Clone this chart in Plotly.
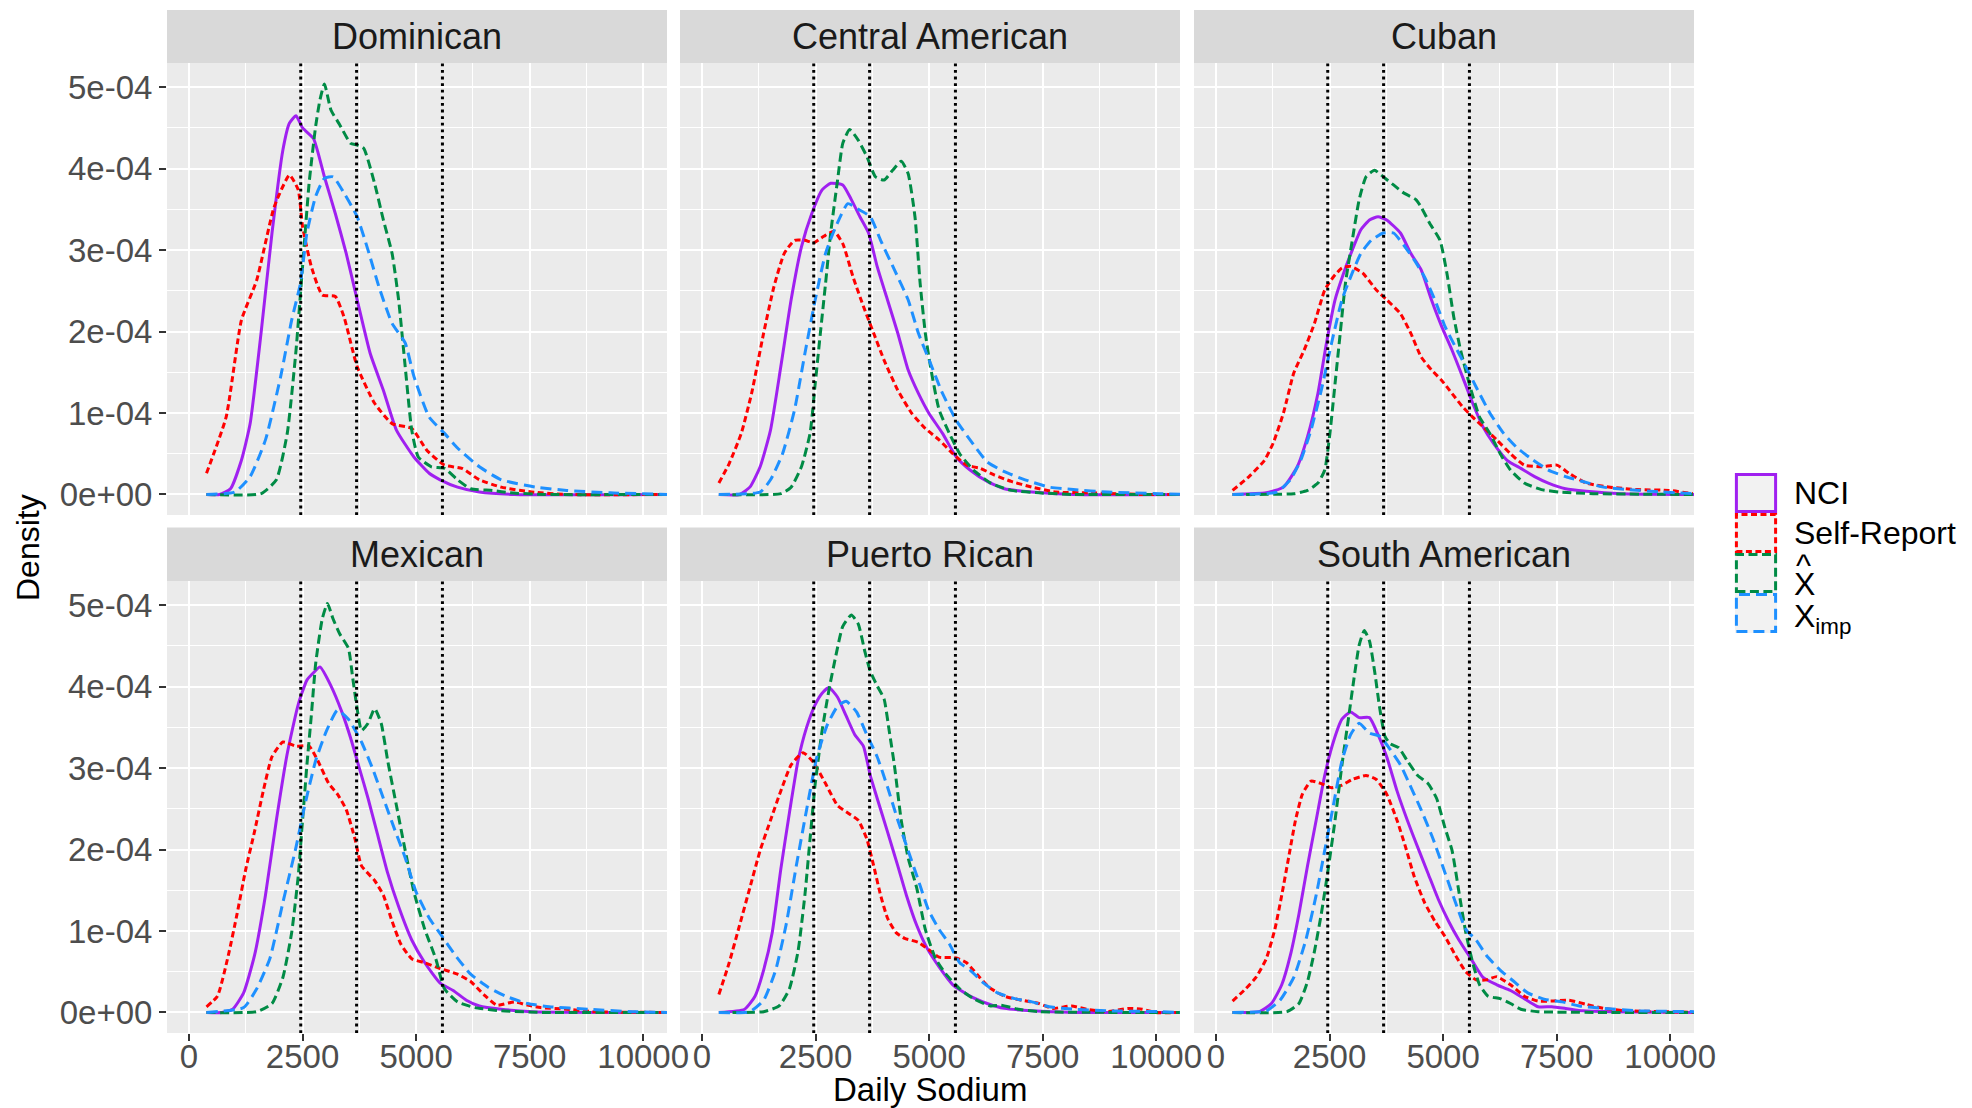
import plotly.graph_objects as go

# ---------------- data (density values in units of 1e-4) ----------------
DENSITY_UNIT = 1e-4
FACETS = ["Dominican", "Central American", "Cuban", "Mexican", "Puerto Rican", "South American"]
SERIES = ["NCI", "Self-Report", "X̂", "Ximp"]
CUTOFFS = [2460, 3690, 5580]
X_TICKS = [0, 2500, 5000, 7500, 10000]
X_TICK_TEXT = ["0", "2500", "5000", "7500", "10000"]
Y_TICKS = [0, 1e-4, 2e-4, 3e-4, 4e-4, 5e-4]
Y_TICK_TEXT = ["0e+00", "1e-04", "2e-04", "3e-04", "4e-04", "5e-04"]

DOM_NCI = [(385,0),(673,0),(913,0.07),(1154,0.42),(1346,0.87),(1586,1.98),(1827,3.21),(2067,4.23),(2212,4.56),(2356,4.65),(2500,4.50),(2740,4.37),(2981,3.90),(3221,3.45),(3461,2.96),(3702,2.39),(3990,1.73),(4279,1.28),(4567,0.79),(4952,0.46),(5288,0.26),(5529,0.18),(5913,0.09),(6394,0.03),(7163,0),(10600,0)]
DOM_SR = [(385,0.26),(817,0.95),(1154,2.14),(1490,2.63),(1875,3.53),(2212,3.92),(2404,3.74),(2500,3.29),(2692,2.80),(2933,2.45),(3221,2.43),(3413,2.18),(3702,1.57),(4086,1.12),(4471,0.87),(4904,0.81),(5240,0.54),(5625,0.36),(6010,0.32),(6394,0.18),(6875,0.09),(7548,0.03),(8317,0),(10600,0)]
DOM_XHAT = [(385,0),(1586,0.01),(1923,0.18),(2163,0.75),(2356,1.77),(2500,2.80),(2644,3.82),(2788,4.52),(2885,4.85),(2981,5.04),(3125,4.72),(3317,4.54),(3558,4.31),(3702,4.29),(3846,4.25),(4086,3.82),(4279,3.37),(4471,2.96),(4615,2.39),(4760,1.57),(4904,0.79),(5048,0.46),(5337,0.34),(5625,0.32),(5913,0.18),(6202,0.07),(6683,0.05),(7067,0.02),(7836,0),(10600,0)]
DOM_XIMP = [(385,0),(1010,0.03),(1346,0.22),(1683,0.67),(2019,1.45),(2260,2.14),(2452,2.59),(2596,3.21),(2788,3.66),(2981,3.88),(3173,3.90),(3413,3.70),(3702,3.41),(3942,3.00),(4182,2.55),(4471,2.10),(4760,1.86),(4952,1.45),(5288,0.95),(5625,0.75),(5913,0.57),(6394,0.34),(6875,0.18),(7644,0.09),(8317,0.05),(9279,0.02),(10600,0)]

CAM_NCI = [(371,0),(826,0),(1053,0.09),(1280,0.34),(1508,0.79),(1735,1.57),(1962,2.39),(2189,3.04),(2417,3.45),(2644,3.74),(2833,3.82),(3099,3.80),(3288,3.62),(3477,3.41),(3667,3.21),(3856,2.80),(4083,2.39),(4311,1.98),(4538,1.53),(4765,1.24),(4992,1.00),(5296,0.75),(5599,0.46),(5902,0.30),(6280,0.16),(6659,0.07),(7265,0.03),(8174,0),(10600,0)]
CAM_SR = [(371,0.14),(598,0.38),(864,0.75),(1091,1.24),(1356,1.98),(1583,2.55),(1811,2.96),(2038,3.12),(2265,3.12),(2455,3.09),(2682,3.17),(2909,3.23),(3099,3.08),(3326,2.67),(3553,2.31),(3780,1.98),(4008,1.65),(4311,1.28),(4614,1.00),(4917,0.81),(5220,0.67),(5523,0.50),(5826,0.36),(6129,0.32),(6432,0.24),(6811,0.16),(7265,0.09),(7796,0.03),(8553,0.02),(9690,0),(10600,0)]
CAM_XHAT = [(371,0),(1735,0.01),(1962,0.09),(2189,0.34),(2379,0.75),(2493,1.36),(2606,1.98),(2720,2.59),(2833,3.21),(2985,3.86),(3099,4.31),(3250,4.48),(3439,4.35),(3629,4.15),(3818,3.90),(4008,3.86),(4197,3.98),(4386,4.09),(4538,3.94),(4689,3.41),(4803,2.59),(4917,1.98),(5030,1.57),(5220,1.04),(5447,0.75),(5674,0.50),(5977,0.30),(6356,0.14),(6811,0.05),(7417,0.02),(8174,0),(10600,0)]
CAM_XIMP = [(371,0),(1280,0.03),(1508,0.18),(1773,0.50),(2038,1.04),(2265,1.73),(2493,2.39),(2720,2.96),(2947,3.29),(3212,3.57),(3477,3.49),(3705,3.41),(3932,3.12),(4235,2.76),(4538,2.39),(4765,1.98),(5030,1.61),(5296,1.24),(5599,0.91),(5902,0.67),(6280,0.40),(6659,0.28),(7114,0.18),(7644,0.09),(8174,0.06),(8932,0.03),(10068,0.01),(10600,0)]

CUB_NCI = [(364,0),(1106,0.02),(1485,0.09),(1788,0.34),(2015,0.71),(2243,1.24),(2432,1.86),(2621,2.39),(2811,2.72),(3000,3.00),(3189,3.25),(3379,3.37),(3568,3.41),(3758,3.37),(4061,3.21),(4288,2.96),(4515,2.76),(4743,2.39),(4970,2.06),(5197,1.77),(5424,1.45),(5652,1.12),(5879,0.83),(6106,0.63),(6409,0.42),(6712,0.32),(7015,0.22),(7318,0.14),(7697,0.07),(8152,0.04),(8909,0.01),(10600,0)]
CUB_SR = [(364,0.05),(727,0.22),(1068,0.42),(1258,0.63),(1485,1.00),(1712,1.49),(1939,1.77),(2167,2.10),(2394,2.51),(2583,2.67),(2773,2.78),(2962,2.80),(3227,2.72),(3530,2.51),(3758,2.39),(4061,2.22),(4288,1.98),(4515,1.69),(4743,1.53),(4970,1.40),(5197,1.24),(5424,1.08),(5652,0.95),(5879,0.83),(6182,0.67),(6485,0.50),(6788,0.36),(7167,0.34),(7508,0.36),(7773,0.26),(8152,0.14),(8682,0.09),(9288,0.06),(9970,0.05),(10500,0.01)]
CUB_XHAT = [(364,0),(1712,0.01),(2015,0.05),(2243,0.14),(2394,0.30),(2508,0.75),(2621,1.36),(2735,1.98),(2849,2.59),(3000,3.12),(3152,3.62),(3303,3.90),(3492,3.98),(3682,3.90),(3909,3.80),(4136,3.70),(4402,3.62),(4515,3.53),(4705,3.33),(4932,3.12),(5083,2.72),(5235,2.18),(5386,1.77),(5576,1.36),(5803,0.95),(6030,0.75),(6258,0.50),(6485,0.30),(6788,0.14),(7167,0.06),(7545,0.03),(8303,0.01),(10600,0)]
CUB_XIMP = [(364,0),(1333,0.03),(1636,0.18),(1864,0.42),(2091,0.79),(2318,1.28),(2545,1.86),(2773,2.39),(3000,2.72),(3189,2.96),(3417,3.12),(3682,3.21),(3909,3.21),(4136,3.06),(4364,2.88),(4591,2.67),(4818,2.39),(5045,2.06),(5273,1.81),(5500,1.57),(5727,1.32),(6030,1.00),(6333,0.75),(6636,0.57),(6939,0.44),(7318,0.30),(7697,0.22),(8076,0.16),(8530,0.09),(9061,0.06),(9818,0.03),(10600,0.01)]

MEX_NCI = [(385,0),(721,0),(962,0.04),(1202,0.24),(1442,0.70),(1683,1.44),(1923,2.36),(2163,3.18),(2404,3.78),(2596,4.08),(2740,4.17),(2885,4.24),(3125,4.01),(3365,3.69),(3558,3.37),(3750,3.00),(3942,2.63),(4135,2.22),(4375,1.71),(4615,1.30),(4904,0.89),(5192,0.61),(5529,0.36),(5817,0.27),(6106,0.15),(6394,0.08),(6875,0.04),(7548,0.01),(10600,0)]
MEX_SR = [(385,0.07),(625,0.20),(865,0.70),(1058,1.21),(1250,1.76),(1442,2.22),(1635,2.72),(1827,3.14),(2067,3.32),(2356,3.27),(2644,3.27),(2837,3.09),(3077,2.81),(3269,2.68),(3462,2.49),(3654,2.13),(3798,1.80),(4087,1.62),(4279,1.44),(4471,1.12),(4663,0.84),(4904,0.66),(5192,0.61),(5529,0.54),(5913,0.47),(6202,0.38),(6490,0.22),(6779,0.09),(7163,0.13),(7452,0.09),(7740,0.06),(8317,0.04),(8894,0.01),(10600,0)]
MEX_XHAT = [(385,0),(1490,0.01),(1827,0.11),(2067,0.43),(2260,0.98),(2404,1.67),(2500,2.36),(2596,3.04),(2692,3.64),(2788,4.28),(2933,4.83),(3048,5.02),(3173,4.83),(3317,4.65),(3510,4.47),(3606,4.10),(3702,3.73),(3798,3.46),(3942,3.55),(4087,3.73),(4231,3.55),(4375,3.09),(4567,2.54),(4760,1.99),(4952,1.48),(5192,1.02),(5433,0.66),(5625,0.29),(5913,0.13),(6298,0.06),(6875,0.02),(7836,0),(10600,0)]
MEX_XIMP = [(385,0),(1202,0.06),(1490,0.29),(1779,0.66),(2067,1.35),(2356,2.03),(2548,2.54),(2788,3.09),(3029,3.46),(3269,3.71),(3510,3.60),(3798,3.32),(4038,3.00),(4279,2.63),(4519,2.26),(4760,1.90),(5000,1.48),(5288,1.16),(5577,0.93),(5865,0.70),(6202,0.47),(6587,0.31),(6971,0.20),(7452,0.11),(7933,0.07),(8798,0.04),(9760,0.01),(10600,0)]

PR_NCI = [(371,0),(939,0.04),(1167,0.20),(1356,0.52),(1545,0.98),(1735,1.76),(1924,2.45),(2114,3.09),(2303,3.50),(2493,3.78),(2644,3.92),(2795,3.99),(2985,3.87),(3174,3.64),(3364,3.41),(3553,3.27),(3705,2.91),(3856,2.63),(4083,2.22),(4311,1.80),(4500,1.44),(4727,1.07),(4955,0.79),(5220,0.56),(5523,0.34),(5902,0.20),(6280,0.11),(6659,0.05),(7265,0.02),(8174,0),(10600,0)]
PR_SR = [(371,0.22),(598,0.61),(826,1.07),(1053,1.53),(1280,1.99),(1508,2.36),(1735,2.72),(1962,3.04),(2227,3.19),(2455,3.07),(2720,2.81),(2985,2.54),(3212,2.45),(3439,2.36),(3629,2.13),(3780,1.80),(3932,1.44),(4083,1.16),(4273,0.98),(4462,0.91),(4765,0.86),(4992,0.77),(5220,0.68),(5599,0.67),(5826,0.61),(6053,0.47),(6318,0.31),(6659,0.20),(7038,0.15),(7417,0.11),(7720,0.05),(8136,0.08),(8477,0.04),(8932,0.01),(9387,0.05),(9690,0.04),(9993,0),(10600,0)]
PR_XHAT = [(371,0),(1356,0.01),(1697,0.08),(1924,0.29),(2114,0.75),(2265,1.44),(2379,2.13),(2493,2.81),(2644,3.46),(2795,3.96),(2947,4.38),(3099,4.74),(3288,4.88),(3439,4.77),(3591,4.42),(3705,4.19),(3856,4.01),(4008,3.85),(4121,3.46),(4235,3.04),(4386,2.36),(4538,1.90),(4727,1.53),(4917,1.02),(5144,0.66),(5371,0.47),(5674,0.29),(5977,0.17),(6356,0.08),(6583,0.09),(6962,0.04),(7417,0.01),(10600,0)]
PR_XIMP = [(371,0),(1053,0.01),(1356,0.15),(1621,0.52),(1849,1.07),(2076,1.80),(2303,2.49),(2530,3.14),(2758,3.53),(2985,3.76),(3174,3.82),(3402,3.69),(3629,3.41),(3856,3.14),(4083,2.77),(4311,2.36),(4538,1.99),(4765,1.62),(4992,1.25),(5220,1.02),(5447,0.84),(5674,0.61),(5902,0.52),(6205,0.36),(6508,0.24),(6886,0.17),(7265,0.13),(7644,0.07),(8174,0.04),(8932,0.02),(10068,0.01),(10600,0)]

SAM_NCI = [(364,0),(955,0.01),(1220,0.11),(1447,0.34),(1636,0.70),(1826,1.21),(2015,1.80),(2205,2.36),(2394,2.91),(2583,3.32),(2773,3.60),(2962,3.69),(3152,3.62),(3379,3.62),(3568,3.41),(3758,3.14),(3985,2.72),(4212,2.36),(4440,2.03),(4667,1.71),(4894,1.39),(5121,1.12),(5349,0.89),(5614,0.66),(5879,0.43),(6182,0.34),(6485,0.27),(6788,0.17),(7091,0.07),(7394,0.07),(7697,0.05),(8076,0.02),(8682,0.01),(10600,0)]
SAM_SR = [(364,0.14),(652,0.29),(879,0.43),(1106,0.66),(1295,1.02),(1447,1.44),(1598,1.90),(1750,2.36),(1902,2.68),(2091,2.84),(2318,2.81),(2545,2.76),(2773,2.79),(3000,2.86),(3303,2.91),(3530,2.86),(3758,2.68),(3985,2.36),(4174,2.03),(4364,1.67),(4591,1.35),(4818,1.12),(5045,0.93),(5273,0.70),(5500,0.50),(5727,0.40),(5955,0.40),(6182,0.44),(6485,0.34),(6788,0.20),(7091,0.14),(7394,0.14),(7773,0.15),(8152,0.10),(8530,0.05),(9061,0.02),(9818,0.01),(10600,0)]
SAM_XHAT = [(364,0),(1561,0.01),(1826,0.11),(2015,0.38),(2167,0.75),(2318,1.21),(2470,1.76),(2621,2.36),(2773,3.04),(2924,3.64),(3038,4.10),(3152,4.51),(3265,4.69),(3379,4.56),(3492,4.19),(3606,3.73),(3720,3.39),(3834,3.30),(4023,3.25),(4212,3.09),(4440,2.91),(4667,2.81),(4856,2.63),(5045,2.26),(5197,1.99),(5349,1.48),(5500,0.98),(5652,0.61),(5803,0.34),(5992,0.20),(6258,0.17),(6485,0.11),(6712,0.04),(7091,0.01),(10600,0)]
SAM_XIMP = [(364,0),(1106,0.02),(1409,0.15),(1712,0.43),(1977,0.89),(2205,1.44),(2394,1.99),(2583,2.54),(2773,3.09),(2962,3.41),(3152,3.55),(3379,3.43),(3606,3.39),(3834,3.23),(4061,3.04),(4288,2.77),(4515,2.49),(4780,2.13),(5045,1.71),(5273,1.35),(5500,1.02),(5727,0.89),(5955,0.70),(6258,0.52),(6561,0.38),(6864,0.24),(7243,0.16),(7621,0.13),(8000,0.08),(8530,0.05),(9288,0.02),(10600,0.01)]

PANEL_DATA = [
    [DOM_NCI, DOM_SR, DOM_XHAT, DOM_XIMP],
    [CAM_NCI, CAM_SR, CAM_XHAT, CAM_XIMP],
    [CUB_NCI, CUB_SR, CUB_XHAT, CUB_XIMP],
    [MEX_NCI, MEX_SR, MEX_XHAT, MEX_XIMP],
    [PR_NCI, PR_SR, PR_XHAT, PR_XIMP],
    [SAM_NCI, SAM_SR, SAM_XHAT, SAM_XIMP],
]

# ---------------- styling ----------------
WIN_W, WIN_H = 1972, 1108
BODY_MARGIN = 8            # default page margin around the plot div
W, H = WIN_W - 2 * BODY_MARGIN, WIN_H - BODY_MARGIN
FONT = "Liberation Sans, Arial, sans-serif"
COLORS = ["#A020F0", "#FF0000", "#008B45", "#1E90FF"]
DASHES = ["solid", "6px,3.5px", "9px,4.5px", "11px,6px"]
LINE_W = 3.0
PANEL_X = [(167, 667), (680, 1180), (1194, 1694)]
ROW_Y = [(63, 515), (581, 1033)]
STRIP_Y = [(10, 63), (527.5, 581)]
X_RANGE = [-485, 10525]
Y_RANGE = [-2.52e-5, 5.297e-4]


def px(x):
    return (x - BODY_MARGIN) / W


def py(y):
    return 1 - (y - BODY_MARGIN) / H


fig = go.Figure()
shapes = []
annotations = []
layout_axes = {}

for i, facet in enumerate(FACETS):
    row, col = divmod(i, 3)
    n = "" if i == 0 else str(i + 1)
    xa, ya = "x" + n, "y" + n
    for s, pts in enumerate(PANEL_DATA[i]):
        fig.add_trace(go.Scatter(
            x=[p[0] for p in pts], y=[p[1] * DENSITY_UNIT for p in pts],
            mode="lines", xaxis=xa, yaxis=ya, showlegend=False, hoverinfo="skip",
            name=SERIES[s],
            line=dict(color=COLORS[s], width=LINE_W, dash=DASHES[s], shape="spline", smoothing=0.5),
        ))
    x0, x1 = PANEL_X[col]
    y0, y1 = ROW_Y[row]
    layout_axes["xaxis" + n] = dict(
        domain=[px(x0), px(x1)], range=X_RANGE, anchor=ya, automargin=False,
        tickvals=X_TICKS, ticktext=X_TICK_TEXT, showticklabels=(row == 1),
        ticks="outside" if row == 1 else "", ticklen=7, tickwidth=2.2, tickcolor="#333333",
        ticklabelstandoff=-13,
        tickfont=dict(family=FONT, size=33, color="#4D4D4D"),
        showgrid=True, gridcolor="white", gridwidth=2.2,
        minor=dict(tickvals=[1250, 3750, 6250, 8750], showgrid=True, gridcolor="white", gridwidth=1.1, ticks=""),
        zeroline=False, showline=False, fixedrange=True,
    )
    layout_axes["yaxis" + n] = dict(
        domain=[py(y1), py(y0)], range=Y_RANGE, anchor=xa, automargin=False,
        tickvals=Y_TICKS, ticktext=Y_TICK_TEXT, showticklabels=(col == 0),
        ticks="outside" if col == 0 else "", ticklen=7, tickwidth=2.2, tickcolor="#333333",
        tickfont=dict(family=FONT, size=33, color="#4D4D4D"),
        showgrid=True, gridcolor="white", gridwidth=2.2,
        minor=dict(tickvals=[0.5e-4, 1.5e-4, 2.5e-4, 3.5e-4, 4.5e-4], showgrid=True,
                   gridcolor="white", gridwidth=1.1, ticks=""),
        zeroline=False, showline=False, fixedrange=True,
    )
    for c in CUTOFFS:
        shapes.append(dict(type="line", xref=xa, yref=ya + " domain", x0=c, x1=c, y0=0, y1=1,
                           line=dict(color="black", width=3, dash="2.8px,3.8px"), layer="above"))
    sy0, sy1 = STRIP_Y[row]
    shapes.append(dict(type="rect", xref="paper", yref="paper", x0=px(x0), x1=px(x1),
                       y0=py(sy1), y1=py(sy0), fillcolor="#D9D9D9", line=dict(width=0), layer="below"))
    annotations.append(dict(text=facet, xref="paper", yref="paper", x=px((x0 + x1) / 2),
                            y=py((sy0 + sy1) / 2), showarrow=False, xanchor="center", yanchor="middle",
                            font=dict(family=FONT, size=36, color="#1A1A1A")))

# axis titles
annotations.append(dict(text="Daily Sodium", xref="paper", yref="paper", x=px(930), y=py(1089),
                        showarrow=False, xanchor="center", yanchor="middle",
                        font=dict(family=FONT, size=33, color="black")))
annotations.append(dict(text="Density", xref="paper", yref="paper", x=px(28), y=py(548),
                        showarrow=False, xanchor="center", yanchor="middle", textangle=-90,
                        font=dict(family=FONT, size=32, color="black")))

# legend (drawn manually to mimic ggplot keys)
KEY_X = (1735, 1777)
KEY_Y = [(473, 513), (513, 553), (553, 593), (593, 633)]
for s in range(4):
    ky0, ky1 = KEY_Y[s]
    shapes.append(dict(type="rect", xref="paper", yref="paper", x0=px(KEY_X[0]), x1=px(KEY_X[1]),
                       y0=py(ky1), y1=py(ky0), fillcolor="#F2F2F2", line=dict(width=0), layer="above"))
for s in range(4):
    ky0, ky1 = KEY_Y[s]
    shapes.append(dict(type="rect", xref="paper", yref="paper", x0=px(KEY_X[0] + 1.4), x1=px(KEY_X[1] - 1.4),
                       y0=py(ky1 - 1.4), y1=py(ky0 + 1.4), fillcolor="rgba(0,0,0,0)",
                       line=dict(color=COLORS[s], width=LINE_W, dash=DASHES[s]), layer="above"))

LEG_FONT = dict(family=FONT, size=32, color="black")
annotations.append(dict(text="NCI", xref="paper", yref="paper", x=px(1792), y=py(493),
                        showarrow=False, xanchor="left", yanchor="middle", font=LEG_FONT))
annotations.append(dict(text="Self-Report", xref="paper", yref="paper", x=px(1792), y=py(533),
                        showarrow=False, xanchor="left", yanchor="middle", font=LEG_FONT))
annotations.append(dict(text="^", xref="paper", yref="paper", x=px(1794), y=py(565),
                        showarrow=False, xanchor="left", yanchor="middle", font=LEG_FONT))
annotations.append(dict(text="X", xref="paper", yref="paper", x=px(1792), y=py(584),
                        showarrow=False, xanchor="left", yanchor="middle", font=LEG_FONT))
annotations.append(dict(text="X<sub>imp</sub>", xref="paper", yref="paper", x=px(1792), y=py(618),
                        showarrow=False, xanchor="left", yanchor="middle", font=LEG_FONT))

fig.update_layout(
    width=W, height=H, autosize=False,
    margin=dict(l=0, r=0, t=0, b=0, pad=0),
    paper_bgcolor="white", plot_bgcolor="#EBEBEB",
    showlegend=False, shapes=shapes, annotations=annotations,
    font=dict(family=FONT),
    **layout_axes,
)

fig.write_html("out.html")
